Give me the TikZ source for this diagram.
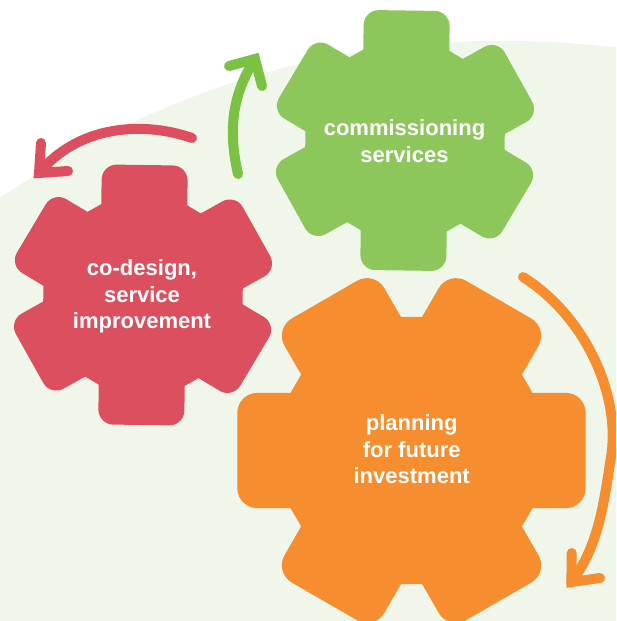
\documentclass[tikz,border=0pt]{standalone}
\usepackage{fontspec}
\setmainfont{Liberation Sans}
\definecolor{bgc}{HTML}{F0F7EA}
\definecolor{gearR}{HTML}{DC4F5E}
\definecolor{gearG}{HTML}{8DC75C}
\definecolor{gearO}{HTML}{F68D2E}
\definecolor{arrG}{HTML}{7BC143}
\tikzset{
  gtext/.style={text=white, font=\fontsize{22}{26.5}\selectfont\bfseries, align=center, inner sep=0pt},
  arrowline/.style={line width=10pt, line cap=round},
  barb/.style={line width=10pt, line cap=round, line join=miter},
}
% #1 cx, #2 cy, #3 scale, #4 rotation, #5 colour, #6 corner radius
\newcommand\mygear[6]{%
  \begin{scope}[shift={(#1,#2)}, scale=#3, rotate=#4]
    \fill[#5] (-25.47:100) \foreach \k in {0,...,5}{ -- ({\k*60-25.47}:100) -- ({\k*60+25.47}:100) } -- cycle;
    \foreach \k in {0,...,5}{
      \fill[#5, rounded corners=#6, rotate=\k*60] (0,-43) -- (130,-43) -- (130,43) -- (0,43) -- cycle;
    }
  \end{scope}}
\begin{document}
\begin{tikzpicture}[x=1pt, y=-1pt]
  \useasboundingbox (0,0) rectangle (616,621);
  \clip (0,0) rectangle (616,621);
  \fill[white] (-5,-5) rectangle (625,630);
  \fill[bgc] (-5,201) .. controls (190,70) and (390,20) .. (625,48.5) -- (625,630) -- (-5,630) -- cycle;

  \mygear{143}{295}{1}{29.2}{gearR}{15pt}
  \mygear{405}{140.5}{1}{29.2}{gearG}{15pt}
  \mygear{411.5}{450.5}{1.34}{0}{gearO}{20pt}

  \node[gtext] (tG) at (404.5,141) {commissioning\\services};
  \node[gtext] (tR) at (142,296.6) {co-design,\\service\\improvement};
  \node[gtext] (tO) at (411.7,449.5) {planning\\for future\\investment};

  % red arrow
  \coordinate (rS) at (192,138);
  \coordinate (rT) at (39,173);
  \coordinate (rA1) at (41,143);
  \coordinate (rA2) at (68,171);
  \draw[arrowline, gearR] (rS) .. controls (140,120) and (77,127) .. (rT);
  \draw[barb, gearR] (rA1) -- (rT) -- (rA2);

  % green arrow
  \coordinate (gS) at (238,174);
  \coordinate (gT) at (255,59);
  \coordinate (gA1) at (229,66);
  \coordinate (gA2) at (262,86);
  \draw[arrowline, arrG] (gS) .. controls (228,130) and (232,95) .. (gT);
  \draw[barb, arrG] (gA1) -- (gT) -- (gA2);

  % orange arrow
  \coordinate (oS) at (523,277);
  \coordinate (oM) at (610.5,460);
  \coordinate (oT) at (571.4,582);
  \coordinate (oA1) at (571.7,553);
  \coordinate (oA2) at (600,578);
  \draw[arrowline, gearO] (oS) .. controls (588,318) and (622,400) .. (oM)
        .. controls (603,510) and (597,548) .. (oT);
  \draw[barb, gearO] (oA1) -- (oT) -- (oA2);
\end{tikzpicture}
\end{document}
